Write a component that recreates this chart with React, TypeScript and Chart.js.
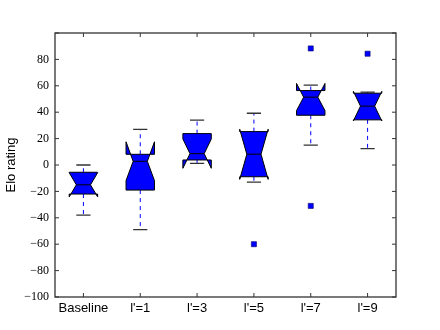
import React, { useEffect, useRef } from "react";
import { Chart, registerables } from "chart.js";

Chart.register(...registerables);

const categories = ["Baseline", "l'=1", "l'=3", "l'=5", "l'=7", "l'=9"];
const whiskerLow = [-38, -49, 1.3, -13, 15, 12.4];
const q1 = [-22, -19, 3.8, -8.9, 37.7, 34.2];
const median = [-15, 2.8, 8.6, 8.2, 51.4, 44.6];
const q3 = [-5.5, 8.1, 23.8, 25.3, 56.4, 54.4];
const whiskerHigh = [0, 27, 34, 39.2, 60.5, 55.2];
const notchLow = [-24.2, -11.8, -2.5, -10.9, 41.2, 33.4];
const notchHigh = [-5.8, 17.6, 19.7, 27.1, 61.8, 55.8];
const outlierCategory = [4, 5, 5, 6];
const outlierValue = [-60, 88.3, -31, 84.3];
const yTicks = [-100, -80, -60, -40, -20, 0, 20, 40, 60, 80, 100];

const boxPlugin = {
  id: "notchedBoxes",
  beforeDatasetsDraw(chart: any) {
    const { ctx, scales } = chart;
    const xs = scales.x;
    const ys = scales.y;
    const half = 0.25;
    const capHalf = 0.125;
    ctx.save();
    for (let i = 0; i < categories.length; i++) {
      const c = i + 1;
      const xl = xs.getPixelForValue(c - half);
      const xr = xs.getPixelForValue(c + half);
      const xcl = xs.getPixelForValue(c - half / 2);
      const xcr = xs.getPixelForValue(c + half / 2);
      const xc = xs.getPixelForValue(c);
      const yq1 = ys.getPixelForValue(q1[i]);
      const yq3 = ys.getPixelForValue(q3[i]);
      const ym = ys.getPixelForValue(median[i]);
      const ynl = ys.getPixelForValue(notchLow[i]);
      const ynh = ys.getPixelForValue(notchHigh[i]);
      const ywl = ys.getPixelForValue(whiskerLow[i]);
      const ywh = ys.getPixelForValue(whiskerHigh[i]);
      // whiskers
      ctx.strokeStyle = "#0000ff";
      ctx.lineWidth = 1;
      ctx.setLineDash([4, 4]);
      ctx.beginPath();
      ctx.moveTo(xc, yq1);
      ctx.lineTo(xc, ywl);
      ctx.moveTo(xc, yq3);
      ctx.lineTo(xc, ywh);
      ctx.stroke();
      ctx.setLineDash([]);
      // caps
      ctx.strokeStyle = "#333";
      ctx.lineWidth = 1.3;
      const cl = xs.getPixelForValue(c - capHalf);
      const cr = xs.getPixelForValue(c + capHalf);
      ctx.beginPath();
      ctx.moveTo(cl, ywl);
      ctx.lineTo(cr, ywl);
      ctx.moveTo(cl, ywh);
      ctx.lineTo(cr, ywh);
      ctx.stroke();
      // box
      ctx.beginPath();
      ctx.moveTo(xl, yq1);
      ctx.lineTo(xl, ynl);
      ctx.lineTo(xcl, ym);
      ctx.lineTo(xl, ynh);
      ctx.lineTo(xl, yq3);
      ctx.lineTo(xr, yq3);
      ctx.lineTo(xr, ynh);
      ctx.lineTo(xcr, ym);
      ctx.lineTo(xr, ynl);
      ctx.lineTo(xr, yq1);
      ctx.closePath();
      ctx.fillStyle = "#0000ff";
      ctx.fill();
      ctx.strokeStyle = "#000";
      ctx.lineWidth = 1;
      ctx.stroke();
      // median
      ctx.beginPath();
      ctx.moveTo(xcl, ym);
      ctx.lineTo(xcr, ym);
      ctx.stroke();
    }
    ctx.restore();
  },
  afterDraw(chart: any) {
    const { ctx, chartArea, scales } = chart;
    const { left, right, top, bottom } = chartArea;
    ctx.save();
    ctx.strokeStyle = "#333";
    ctx.lineWidth = 1.3;
    ctx.strokeRect(left, top, right - left, bottom - top);
    const len = 4;
    ctx.lineWidth = 1;
    ctx.beginPath();
    for (const v of yTicks) {
      const y = scales.y.getPixelForValue(v);
      ctx.moveTo(left, y);
      ctx.lineTo(left + len, y);
      ctx.moveTo(right, y);
      ctx.lineTo(right - len, y);
    }
    for (let i = 0; i < categories.length; i++) {
      const x = scales.x.getPixelForValue(i + 1);
      ctx.moveTo(x, bottom);
      ctx.lineTo(x, bottom - len);
      ctx.moveTo(x, top);
      ctx.lineTo(x, top + len);
    }
    ctx.stroke();
    ctx.restore();
  },
};

export default function App() {
  const ref = useRef<HTMLCanvasElement>(null);
  useEffect(() => {
    document.body.style.margin = "0";
    const chart = new Chart(ref.current!, {
      type: "scatter",
      data: {
        datasets: [
          {
            data: outlierCategory.map((c, i) => ({ x: c, y: outlierValue[i] })),
            pointStyle: "rect",
            pointRadius: 3.6,
            backgroundColor: "#0000ff",
            borderColor: "#000066",
            borderWidth: 0.6,
          },
        ],
      },
      options: {
        animation: false,
        responsive: false,
        events: [],
        layout: { padding: { top: 33, right: 44, left: 0, bottom: 0 } },
        plugins: { legend: { display: false }, tooltip: { enabled: false } },
        scales: {
          x: {
            type: "linear",
            min: 0.5,
            max: 6.5,
            grid: { display: false, drawTicks: false },
            border: { display: false },
            afterBuildTicks: (s: any) => {
              s.ticks = categories.map((_, i) => ({ value: i + 1 }));
            },
            afterFit: (s: any) => {
              s.height = 33;
            },
            ticks: {
              autoSkip: false,
              maxRotation: 0,
              padding: 4,
              color: "#000",
              font: { family: "'Liberation Sans', Arial, sans-serif", size: 13 },
              callback: (v: any) => categories[Math.round(v) - 1] ?? "",
            },
          },
          y: {
            min: -100,
            max: 100,
            grid: { display: false, drawTicks: false },
            border: { display: false },
            afterBuildTicks: (s: any) => {
              s.ticks = yTicks.map((v) => ({ value: v }));
            },
            afterFit: (s: any) => {
              s.width = 55;
            },
            ticks: {
              padding: 6,
              color: "#000",
              font: { family: "'Liberation Serif', 'Times New Roman', serif", size: 12 },
              callback: (v: any) => (v === 100 ? "" : v < 0 ? "\u2212" + Math.abs(v) : String(v)),
            },
            title: {
              display: true,
              text: "Elo rating",
              color: "#000",
              padding: { top: 4, bottom: 0 },
              font: { family: "'Liberation Sans', Arial, sans-serif", size: 13 },
            },
          },
        },
      },
      plugins: [boxPlugin],
    });
    return () => chart.destroy();
  }, []);
  return <canvas ref={ref} width={440} height={330} style={{ display: "block" }} />;
}
